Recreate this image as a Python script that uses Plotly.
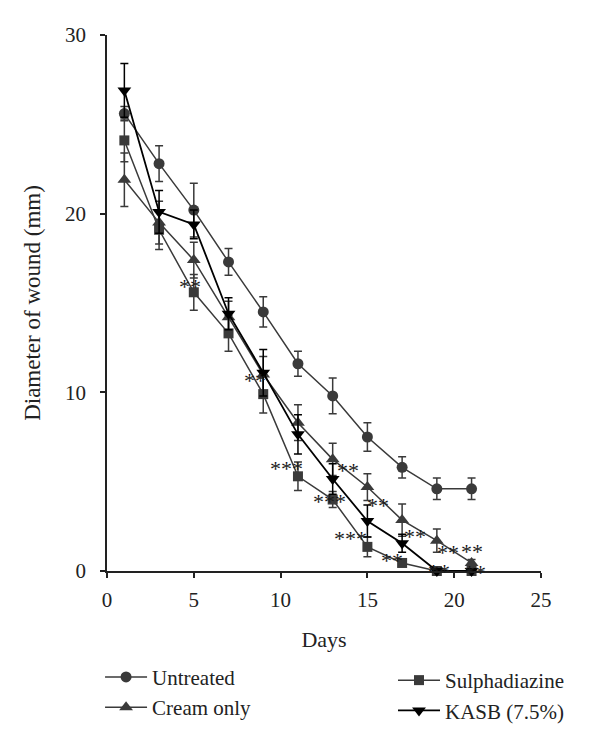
import plotly.graph_objects as go

days = [1, 3, 5, 7, 9, 11, 13, 15, 17, 19, 21]

untreated = [25.6, 22.8, 20.2, 17.3, 14.5, 11.6, 9.8, 7.5, 5.8, 4.6, 4.6]
untreated_err = [0.4, 1.0, 1.5, 0.75, 0.85, 0.7, 1.0, 0.8, 0.6, 0.6, 0.6]

cream = [21.9, 19.5, 17.4, 14.2, 11.0, 8.3, 6.25, 4.7, 2.85, 1.7, 0.45]
cream_err = [1.5, 1.2, 1.0, 0.9, 1.0, 1.0, 0.9, 0.75, 0.9, 0.65, 0.2]

sulpha = [24.1, 19.1, 15.6, 13.3, 9.9, 5.3, 4.0, 1.35, 0.45, 0.0, 0.0]
sulpha_err = [1.2, 1.1, 1.0, 1.0, 1.05, 0.8, 0.45, 0.55, 0.2, 0.0, 0.0]

kasb = [26.9, 20.1, 19.4, 14.4, 11.1, 7.65, 5.15, 2.8, 1.55, 0.0, 0.0]
kasb_err = [1.5, 1.2, 0.8, 0.9, 1.3, 1.1, 0.85, 0.9, 0.5, 0.0, 0.0]

sig_x = [4.78, 8.5, 10.35, 13.9, 12.8, 15.6, 14.0, 16.4, 17.74, 19.66, 21.0, 19.1, 21.2]
sig_y = [16.2, 10.9, 5.97, 5.9, 4.16, 3.9, 2.07, 0.84, 2.17, 1.27, 1.36, 0.24, 0.17]
sig_text = ["**", "**", "***", "**", "***", "**", "***", "**", "**", "**", "**", "**", "**"]

SERIF = "Liberation Serif"
GRAY = "#3a3a3a"
TXT = "#222222"

series = [
    ("Untreated", untreated, untreated_err, "circle", GRAY, "legend", 11),
    ("Cream only", cream, cream_err, "triangle-up", GRAY, "legend", 12),
    ("Sulphadiazine", sulpha, sulpha_err, "square", GRAY, "legend2", 10),
    ("KASB (7.5%)", kasb, kasb_err, "triangle-down", "#000000", "legend2", 12),
]

fig = go.Figure()
for name, vals, errs, sym, col, leg, msize in series:
    fig.add_trace(go.Scatter(
        x=days, y=vals, name=name, mode="lines+markers",
        line=dict(color=col, width=1.8 if col == "#000000" else 1.5),
        marker=dict(symbol=sym, size=msize, color=col),
        error_y=dict(type="data", array=errs, visible=True, color=col,
                     thickness=1.5, width=4),
        legend=leg, cliponaxis=False,
    ))

for sx, sy, st in zip(sig_x, sig_y, sig_text):
    fig.add_annotation(x=sx, y=sy, text=st, showarrow=False,
                       font=dict(family=SERIF, size=22, color="#1a1a1a"),
                       height=16, valign="middle", yshift=-4)

legend_common = dict(orientation="v", xanchor="left", yanchor="top", itemwidth=42,
                     font=dict(family=SERIF, size=21, color=TXT),
                     tracegroupgap=0, bgcolor="rgba(0,0,0,0)")

fig.update_layout(
    width=592, height=739,
    margin=dict(l=99, r=59, t=27, b=176, autoexpand=False),
    plot_bgcolor="white", paper_bgcolor="white",
    font=dict(family=SERIF, size=21, color=TXT),
    showlegend=True,
    legend=dict(x=-0.016, y=-0.160, **legend_common),
    legend2=dict(x=0.659, y=-0.166, **legend_common),
)
fig.update_xaxes(range=[0, 25], dtick=5, tick0=0, showline=True, linecolor=TXT,
                 linewidth=1.5, ticks="outside", ticklen=5, tickwidth=1.5, tickcolor=TXT,
                 showgrid=False, zeroline=False, ticklabelstandoff=4,
                 title=dict(text="Days", font=dict(family=SERIF, size=22), standoff=21),
                 tickfont=dict(family=SERIF, size=21))
fig.update_yaxes(range=[0, 30], dtick=10, tick0=0, showline=True, linecolor=TXT,
                 linewidth=1.5, ticks="outside", ticklen=5, tickwidth=1.5, tickcolor=TXT,
                 showgrid=False, zeroline=False, ticklabelstandoff=10,
                 title=dict(text="Diameter of wound (mm)", font=dict(family=SERIF, size=23), standoff=18),
                 tickfont=dict(family=SERIF, size=21))

fig.write_html("out.html")
